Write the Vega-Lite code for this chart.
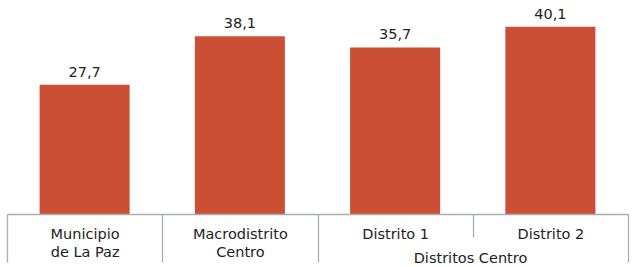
{
  "$schema": "https://vega.github.io/schema/vega-lite/v6.json",
  "width": 621,
  "height": 210,
  "autosize": {"type": "none"},
  "padding": {"left": 7, "top": 4, "right": 6, "bottom": 53},
  "background": "white",
  "config": {"view": {"stroke": null}, "font": "DejaVu Sans"},
  "data": {
    "values": [
      {"name": "Municipio\nde La Paz", "value": 27.7, "label": "27,7"},
      {"name": "Macrodistrito\nCentro", "value": 38.1, "label": "38,1"},
      {"name": "Distrito 1", "value": 35.7, "label": "35,7"},
      {"name": "Distrito 2", "value": 40.1, "label": "40,1"}
    ]
  },
  "encoding": {
    "x": {
      "field": "name",
      "type": "nominal",
      "sort": null,
      "scale": {"paddingInner": 0, "paddingOuter": 0},
      "axis": {
        "title": "Distritos Centro",
        "titleX": 463,
        "titleY": 48,
        "titleBaseline": "alphabetic",
        "titleAlign": "center",
        "titleFont": "DejaVu Sans",
        "titleFontSize": 14.5,
        "titleFontWeight": "normal",
        "titleColor": "#222222",
        "labelAngle": 0,
        "labelExpr": "split(datum.label, '\\n')",
        "labelFont": "DejaVu Sans",
        "labelFontSize": 14.5,
        "labelColor": "#222222",
        "labelLineHeight": 18,
        "labelOverlap": false,
        "labelBound": false,
        "labelPadding": {"condition": {"test": "datum.value === 'Distrito 1'", "value": -10}, "value": -35},
        "tickBand": "extent",
        "tickSize": {"condition": {"test": "datum.value === 'Distrito 1'", "value": 23}, "value": 48},
        "tickColor": "#A7AEB3",
        "tickWidth": 1.3,
        "domainColor": "#A7AEB3",
        "domainWidth": 1.3,
        "zindex": 1
      }
    },
    "y": {
      "field": "value",
      "type": "quantitative",
      "scale": {"domain": [0, 45]},
      "axis": null
    }
  },
  "layer": [
    {"mark": {"type": "bar", "color": "#CB4F34", "width": {"band": 0.58}}},
    {
      "mark": {"type": "text", "baseline": "alphabetic", "dy": -8, "fontSize": 14.5, "font": "DejaVu Sans", "color": "#222222"},
      "encoding": {"text": {"field": "label"}}
    }
  ]
}
